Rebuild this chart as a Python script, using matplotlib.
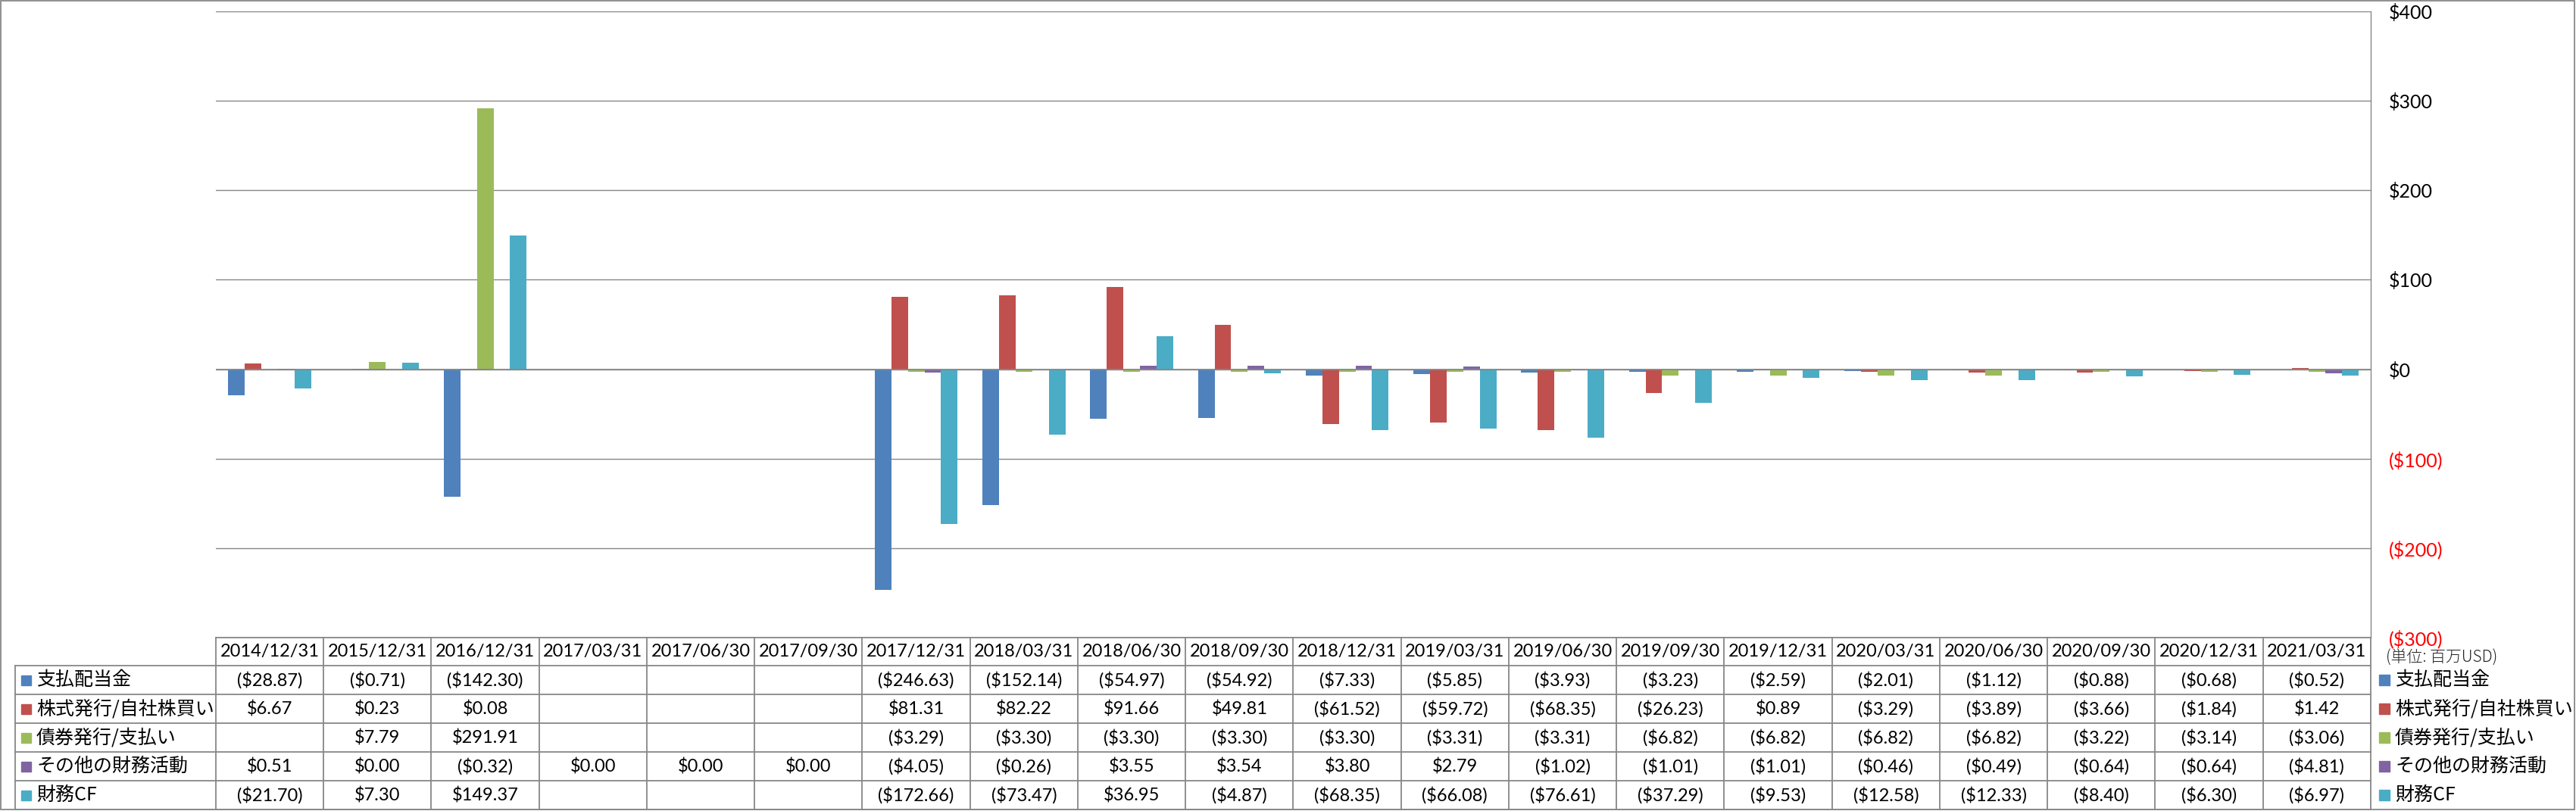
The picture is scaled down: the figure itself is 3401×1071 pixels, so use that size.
import numpy as np
import matplotlib
matplotlib.use('Agg')
import matplotlib.pyplot as plt
from matplotlib.patches import Rectangle

# データ (単位: 百万USD)
dates = ['2014/12/31', '2015/12/31', '2016/12/31', '2017/03/31', '2017/06/30',
         '2017/09/30', '2017/12/31', '2018/03/31', '2018/06/30', '2018/09/30',
         '2018/12/31', '2019/03/31', '2019/06/30', '2019/09/30', '2019/12/31',
         '2020/03/31', '2020/06/30', '2020/09/30', '2020/12/31', '2021/03/31']

names = ['支払配当金', '株式発行/自社株買い', '債券発行/支払い', 'その他の財務活動', '財務CF']

dividend = [-28.87, -0.71, -142.30, None, None, None, -246.63, -152.14, -54.97, -54.92,
            -7.33, -5.85, -3.93, -3.23, -2.59, -2.01, -1.12, -0.88, -0.68, -0.52]
stock = [6.67, 0.23, 0.08, None, None, None, 81.31, 82.22, 91.66, 49.81,
         -61.52, -59.72, -68.35, -26.23, 0.89, -3.29, -3.89, -3.66, -1.84, 1.42]
bond = [None, 7.79, 291.91, None, None, None, -3.29, -3.30, -3.30, -3.30,
        -3.30, -3.31, -3.31, -6.82, -6.82, -6.82, -6.82, -3.22, -3.14, -3.06]
other = [0.51, 0.00, -0.32, 0.00, 0.00, 0.00, -4.05, -0.26, 3.55, 3.54,
         3.80, 2.79, -1.02, -1.01, -1.01, -0.46, -0.49, -0.64, -0.64, -4.81]
fin_cf = [-21.70, 7.30, 149.37, None, None, None, -172.66, -73.47, 36.95, -4.87,
          -68.35, -66.08, -76.61, -37.29, -9.53, -12.58, -12.33, -8.40, -6.30, -6.97]

series = [dividend, stock, bond, other, fin_cf]
colors = ['#4F81BD', '#C0504D', '#9BBB59', '#8064A2', '#4BACC6']
yticks = [400, 300, 200, 100, 0, -100, -200, -300]

W, H = 3401, 1071
GRAY = '#878787'
JP = ['Noto Sans CJK JP', 'DejaVu Sans']
NUM = ['Lato', 'DejaVu Sans']

def fmt(v):
    if v is None:
        return ''
    if v < 0:
        return '(${:.2f})'.format(-v)
    return '${:.2f}'.format(v)

def money(t):
    return '(${})'.format(-t) if t < 0 else '${}'.format(t)

fig = plt.figure(figsize=(W / 100, H / 100), dpi=100)

# 表・枠線用 (ピクセル座標)
ov = fig.add_axes([0, 0, 1, 1])
ov.set_xlim(0, W)
ov.set_ylim(H, 0)
ov.axis('off')

pl, pr, pt, pb = 285, 3130, 15, 842
n = len(dates)
cw = (pr - pl) / n

ax = fig.add_axes([pl / W, (H - pb) / H, (pr - pl) / W, (pb - pt) / H])
ax.set_facecolor('none')

w = 1 / 6.5
x = np.arange(n)
for k, (vals, c) in enumerate(zip(series, colors)):
    h = [np.nan if v is None else v for v in vals]
    ax.bar(x + (k - 2) * w, h, width=w, color=c, zorder=3)

ax.set_xlim(-0.5, n - 0.5)
ax.set_ylim(-300, 400)
ax.set_yticks(yticks)
ax.set_yticklabels([money(t) for t in yticks])
ax.yaxis.tick_right()
ax.tick_params(axis='y', length=0, pad=17, labelsize=18)
for lbl, t in zip(ax.get_yticklabels(), yticks):
    lbl.set_fontfamily(NUM)
    lbl.set_color('red' if t < 0 else 'black')
ax.set_xticks([])
ax.grid(axis='y', color=GRAY, lw=1.0, zorder=1)
ax.axhline(0, color=GRAY, lw=1.3, zorder=4)
for s in ['left', 'top', 'bottom']:
    ax.spines[s].set_visible(False)
ax.spines['right'].set_color(GRAY)
ax.spines['right'].set_linewidth(1.0)

# データテーブル
rows = [879, 917, 955, 993, 1031, 1069]
lw = 1.3
ov.plot([pl, pr], [pb, pb], color=GRAY, lw=lw)
for y in rows:
    ov.plot([20, pr], [y, y], color=GRAY, lw=lw)
ov.plot([20, 20], [rows[0], rows[-1]], color=GRAY, lw=lw)
for i in range(n + 1):
    xx = pl + i * cw
    ov.plot([xx, xx], [pb, rows[-1]], color=GRAY, lw=lw)

for i, d in enumerate(dates):
    ov.text(pl + (i + 0.5) * cw, (pb + rows[0]) / 2, d, ha='center', va='center',
            fontsize=17, family=NUM)

for r, (name, vals, c) in enumerate(zip(names, series, colors)):
    yc = (rows[r] + rows[r + 1]) / 2
    ov.add_patch(Rectangle((28, yc - 6.5), 13, 13, color=c))
    ov.text(48, yc, name, ha='left', va='center', fontsize=18, family=JP)
    for i, v in enumerate(vals):
        ov.text(pl + (i + 0.5) * cw, yc, fmt(v), ha='center', va='center',
                fontsize=17, family=NUM)
    # 右側の凡例
    ov.add_patch(Rectangle((3141, yc - 7), 14, 14, color=c))
    ov.text(3162, yc, name, ha='left', va='center', fontsize=18, family=JP)

ov.text(3150, 869, '(単位: 百万USD)', ha='left', va='center', fontsize=15,
        family=JP, weight='light', color='#222222')

# 外枠
ov.add_patch(Rectangle((1, 1), W - 3, H - 3, fill=False, ec=GRAY, lw=1.3))

fig.savefig('out.png', dpi=100)
